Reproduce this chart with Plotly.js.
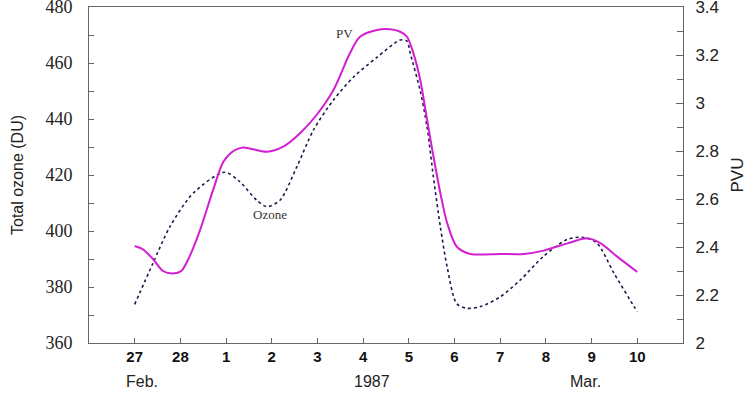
<!DOCTYPE html>
<html>
<head>
<meta charset="utf-8">
<script src="https://cdn.plot.ly/plotly-3.0.1.min.js"></script>
<style>html,body{margin:0;padding:0;background:#fff;}#chart{width:752px;height:396px;}</style>
</head>
<body>
<div id="chart"></div>
<script>
// x: days since 27 Feb 1987 (0 = 27 Feb, 2 = 1 Mar ...)
const tickVals = [0,1,2,3,4,5,6,7,8,9,10,11];
const tickLabels = ["27","28","1","2","3","4","5","6","7","8","9","10"];
const ozoneTicks = [360,380,400,420,440,460,480];
const pvTicks = [2,2.2,2.4,2.6,2.8,3,3.2,3.4];
const pvTickLabels = ["2","2.2","2.4","2.6","2.8","3","3.2","3.4"];

const ozoneDay = [0.0,0.4,0.77,1.28,1.97,2.3,2.67,2.89,3.18,3.55,3.91,4.35,4.79,5.3,5.81,5.96,6.03,6.25,6.4,6.54,6.69,6.84,7.05,7.27,7.57,8.0,8.44,8.95,9.47,9.83,10.12,10.49,10.93,11.0];
const ozoneDU = [373.8,388.5,401.5,413.5,421,417.6,411,408.7,411,423,436,446.8,455,462,468.2,467.8,463.5,450,437,419,401.5,387,374,372.4,373,376.5,382.5,391,397,397.7,395.6,384.9,373,371.2];

const pvDay = [0.0,0.18,0.4,0.62,0.84,1.02,1.2,1.43,1.72,1.94,2.16,2.37,2.89,3.25,3.62,3.98,4.35,4.71,4.93,5.3,5.59,5.81,5.96,6.1,6.25,6.4,6.54,6.69,6.84,7.05,7.35,8.0,8.52,8.95,9.47,9.9,10.2,10.56,11.0];
const pvPVU = [2.404,2.39,2.35,2.30,2.29,2.30,2.36,2.47,2.64,2.755,2.80,2.815,2.797,2.818,2.874,2.95,3.054,3.207,3.276,3.304,3.307,3.297,3.276,3.207,3.096,2.929,2.776,2.624,2.499,2.401,2.371,2.371,2.371,2.385,2.415,2.436,2.415,2.36,2.296];

const sans = "Liberation Sans, Arial, sans-serif";
const serif = "Liberation Serif, Times New Roman, serif";
const axisCol = "#666666";

const traces = [
  {x: ozoneDay, y: ozoneDU, type: "scatter", mode: "lines", name: "Ozone", cliponaxis: false,
   line: {color: "#1c1c4e", width: 1.6, dash: "dot", shape: "spline", smoothing: 0.8}, yaxis: "y"},
  {x: pvDay, y: pvPVU, type: "scatter", mode: "lines", name: "PV", cliponaxis: false,
   line: {color: "#d21fd2", width: 2, shape: "spline", smoothing: 0.8}, yaxis: "y2"}
];

const layout = {
  width: 752, height: 396,
  margin: {l: 89, r: 69, t: 7, b: 53},
  paper_bgcolor: "#ffffff", plot_bgcolor: "#ffffff",
  showlegend: false,
  xaxis: {
    range: [-1, 12], tickmode: "array", tickvals: tickVals, ticktext: tickLabels,
    ticks: "inside", ticklen: 5, tickcolor: axisCol, showgrid: false, zeroline: false,
    showline: true, linecolor: axisCol, linewidth: 1, mirror: true,
    tickfont: {family: sans, size: 15, color: "#111", weight: "bold"}
  },
  yaxis: {
    range: [360, 480], tickmode: "array", tickvals: ozoneTicks, ticklabeloverflow: "allow",
    ticks: "inside", ticklen: 5, tickcolor: axisCol,
    minor: {dtick: 10, ticks: "inside", ticklen: 5, tickcolor: axisCol},
    showgrid: false, zeroline: false, showline: true, linecolor: axisCol, linewidth: 1,
    tickfont: {family: serif, size: 18, color: "#222"}, ticklabelstandoff: 12,
    title: {text: "Total ozone (DU)", font: {family: sans, size: 16, color: "#222"}, standoff: 17}
  },
  yaxis2: {
    range: [2, 3.4], tickmode: "array", tickvals: pvTicks, ticktext: pvTickLabels,
    ticklabeloverflow: "allow", overlaying: "y", side: "right",
    ticks: "inside", ticklen: 7, tickcolor: axisCol,
    minor: {dtick: 0.1, ticks: "inside", ticklen: 6, tickcolor: axisCol},
    showgrid: false, zeroline: false, showline: true, linecolor: axisCol, linewidth: 1,
    tickfont: {family: sans, size: 17, color: "#222"}, ticklabelstandoff: 8,
    title: {text: "PVU", font: {family: sans, size: 17, color: "#222"}, standoff: 13}
  },
  annotations: [
    {x: 4.6, y: 470.7, xref: "x", yref: "y", text: "PV", showarrow: false,
     font: {family: serif, size: 13, color: "#333"}},
    {x: 2.96, y: 406, xref: "x", yref: "y", text: "Ozone", showarrow: false,
     font: {family: serif, size: 13, color: "#333"}},
    {x: 0.15, y: -0.145, xref: "x", yref: "paper", text: "Feb.", showarrow: false,
     font: {family: sans, size: 16, color: "#222"}},
    {x: 5.2, y: -0.145, xref: "x", yref: "paper", text: "1987", showarrow: false,
     font: {family: sans, size: 16, color: "#222"}},
    {x: 9.87, y: -0.145, xref: "x", yref: "paper", text: "Mar.", showarrow: false,
     font: {family: sans, size: 16, color: "#222"}}
  ]
};

Plotly.newPlot("chart", traces, layout, {staticPlot: true, displayModeBar: false});
</script>
</body>
</html>
